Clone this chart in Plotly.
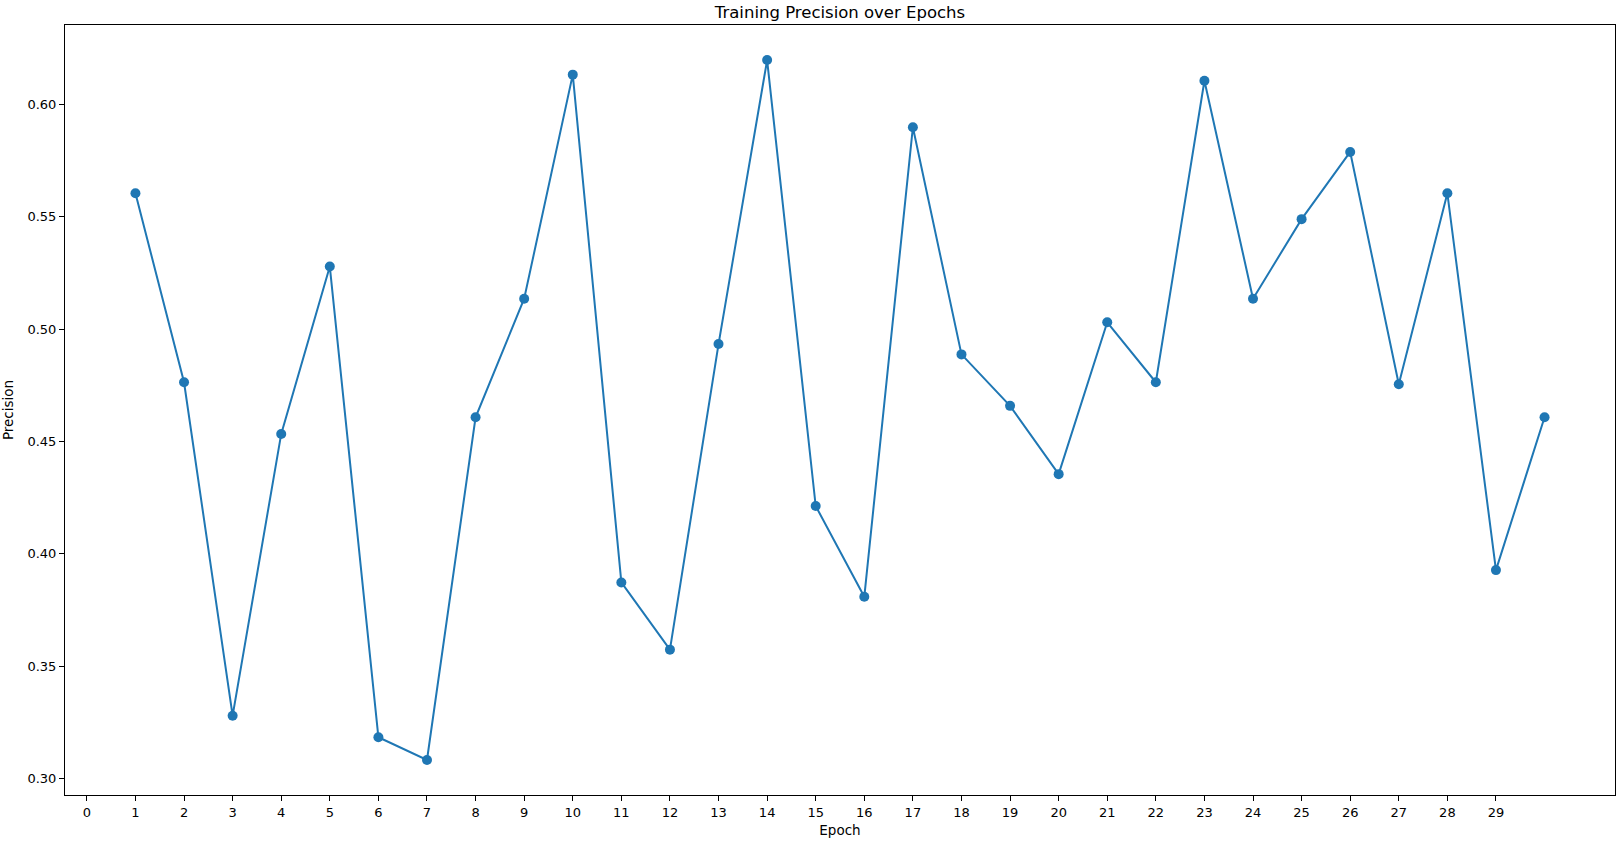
import plotly.graph_objects as go

epochs = list(range(1, 31))
precision = [0.5605, 0.4764, 0.3280, 0.4534, 0.5279, 0.3184, 0.3083, 0.4608, 0.5136, 0.6133,
             0.3873, 0.3574, 0.4934, 0.6198, 0.4213, 0.3809, 0.5899, 0.4888, 0.4659, 0.4355,
             0.5031, 0.4764, 0.6106, 0.5136, 0.5490, 0.5789, 0.4755, 0.5605, 0.3928, 0.4608]
x_ticks = list(range(0, 30))
y_ticks = [0.30, 0.35, 0.40, 0.45, 0.50, 0.55, 0.60]

FONT = "DejaVu Sans"
fig = go.Figure()
fig.add_trace(go.Scatter(
    x=epochs, y=precision, mode="lines+markers",
    line=dict(color="#1f77b4", width=2),
    marker=dict(color="#1f77b4", size=10),
    showlegend=False,
))

axis_common = dict(
    showgrid=False, zeroline=False, showline=True, linecolor="black", linewidth=1,
    mirror=True, ticks="outside", ticklen=5, tickwidth=1, tickcolor="black",
    tickfont=dict(family=FONT, size=13, color="black"), automargin=False,
)
fig.update_xaxes(range=[-0.45, 31.45], tickmode="array", tickvals=x_ticks,
                 ticktext=[str(v) for v in x_ticks],
                 title=dict(text="Epoch", font=dict(family=FONT, size=13.5, color="black"), standoff=6),
                 **axis_common)
fig.update_yaxes(range=[0.2927, 0.6354], tickmode="array", tickvals=y_ticks,
                 ticktext=[f"{v:.2f}" for v in y_ticks],
                 title=dict(text="Precision", font=dict(family=FONT, size=13.5, color="black"), standoff=10),
                 **axis_common)
fig.update_layout(
    width=1620, height=843,
    margin=dict(l=65, r=5, t=25, b=48, autoexpand=False),
    plot_bgcolor="white", paper_bgcolor="white",
    title=dict(text="Training Precision over Epochs", x=0.5, xref="paper", xanchor="center",
               y=1 - 12 / 843, yref="container", yanchor="middle", automargin=False,
               font=dict(family=FONT, size=16.5, color="black")),
)
fig.write_html("out.html", config={"displayModeBar": False},
               post_script="document.body.style.margin='0';document.body.style.overflow='hidden';")
